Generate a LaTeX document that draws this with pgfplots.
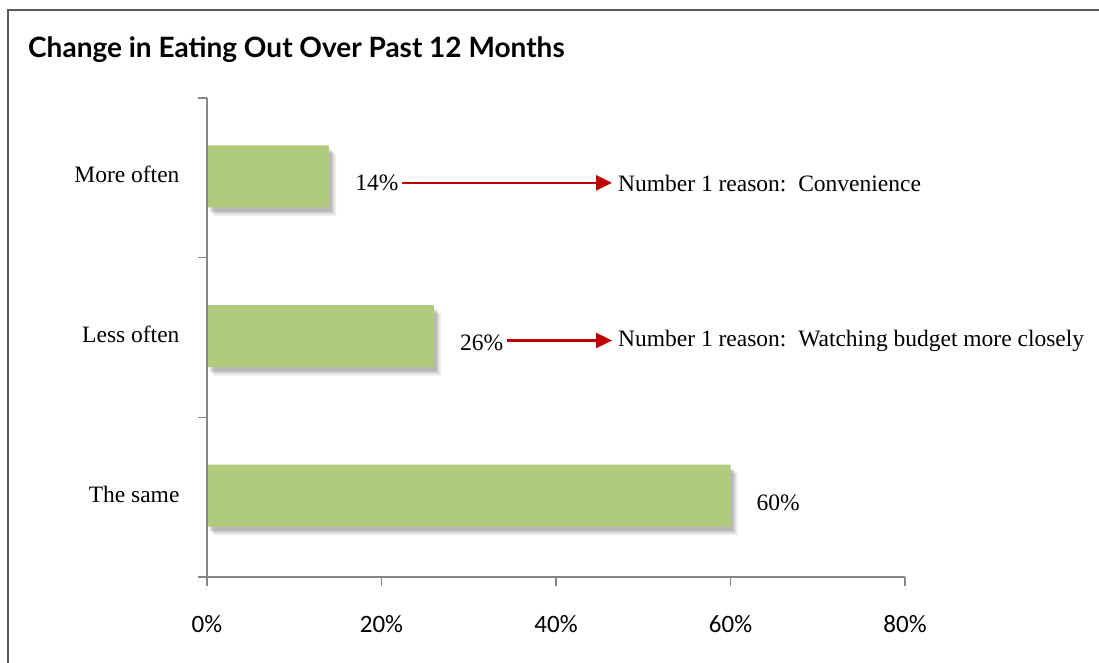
\documentclass[border=0pt]{standalone}
\usepackage{fontspec}
\setmainfont{Liberation Serif}
\newfontfamily\titlefont{Lato}
\newfontfamily\tickfont{Carlito}
\usepackage{pgfplots}
\pgfplotsset{compat=1.18}
\usetikzlibrary{arrows.meta}
\definecolor{barg}{RGB}{176,203,125}
\definecolor{axgray}{RGB}{134,134,134}
\definecolor{arrred}{RGB}{192,0,0}
\definecolor{framegray}{RGB}{90,90,90}
\pgfplotstableread{
v c
60 0
26 1
14 2
}\datatab
\begin{document}
\begin{tikzpicture}[x=1pt,y=1pt]
\path[use as bounding box] (0,0) rectangle (1099,662);
\begin{scope}
\clip (0,0) rectangle (1099,662);
\draw[framegray, line width=2.5pt] (8,-20) rectangle (1120,652);
\end{scope}
\node[anchor=base west, inner sep=0pt, font=\titlefont\bfseries\fontsize{28}{32}\selectfont] at (28,604) {Change in Eating Out Over Past 12 Months};
\begin{axis}[
  at={(207pt,85pt)}, anchor=south west,
  scale only axis, width=698pt, height=479pt,
  xmin=0, xmax=80, ymin=-0.5, ymax=2.5,
  axis lines*=left,
  axis line style={axgray, line width=1.5pt},
  tick style={axgray, line width=1.5pt},
  tick align=outside,
  major tick length=9pt,
  xtick={0,20,40,60,80},
  xticklabels={0\%,20\%,40\%,60\%,80\%},
  xticklabel style={font=\tickfont\fontsize{25}{29}\selectfont, yshift=-26pt},
  ytick={-0.5,0.5,1.5,2.5},
  yticklabels={},
  extra y ticks={0,1,2},
  extra y tick labels={The same,Less often,More often},
  extra y tick style={tick style={draw=none}, yticklabel style={font=\fontsize{23.5}{27}\selectfont, xshift=-15pt, yshift=3pt}},
  xbar, bar width=62pt,
  clip=false,
  axis on top,
]
\addplot[fill=black, opacity=0.07, draw=none, xshift=7pt, yshift=-7pt, forget plot] table[x=v,y=c] {\datatab};
\addplot[fill=black, opacity=0.10, draw=none, xshift=5pt, yshift=-5pt, forget plot] table[x=v,y=c] {\datatab};
\addplot[fill=black, opacity=0.14, draw=none, xshift=3pt, yshift=-3pt, forget plot] table[x=v,y=c] {\datatab};
\addplot[fill=barg, draw=none, bar shift=1.5pt,
  point meta=x,
  nodes near coords={\pgfmathprintnumber[assume math mode=true]{\pgfplotspointmeta}\%},
  every node near coord/.append style={font=\fontsize{23.5}{27}\selectfont, anchor=west, inner sep=0pt, xshift=26pt, yshift=-7pt, black},
] table[x=v,y=c] {\datatab};
\draw[arrred, line width=2.4pt, -{Triangle[length=16pt,width=15pt]}] ([yshift=-5pt]axis cs:22.35,2) -- ([yshift=-5pt]axis cs:46.42,2);
\draw[arrred, line width=2.4pt, -{Triangle[length=16pt,width=15pt]}] ([yshift=-3pt]axis cs:34.38,1) -- ([yshift=-3pt]axis cs:46.42,1);
\node[anchor=west, inner sep=0pt, font=\fontsize{23.5}{27}\selectfont] at ([yshift=-6pt]axis cs:47.1,2) {Number 1 reason:\ \ Convenience};
\node[anchor=west, inner sep=0pt, font=\fontsize{23.5}{27}\selectfont] at ([yshift=-3pt]axis cs:47.1,1) {Number 1 reason:\ \ Watching budget more closely};
\end{axis}
\end{tikzpicture}
\end{document}
